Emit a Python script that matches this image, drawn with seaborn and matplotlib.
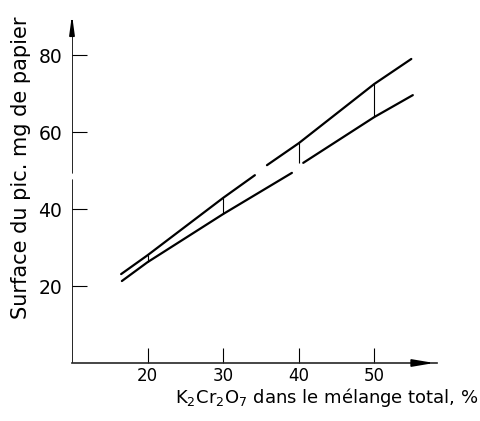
import numpy as np
import pandas as pd
import seaborn as sns
import matplotlib.pyplot as plt

# values
upper_x_a = [16.5, 20, 30, 34.2]
upper_y_a = [23.1, 28.0, 42.9, 48.8]
upper_x_b = [35.8, 40, 50, 54.9]
upper_y_b = [51.4, 57.1, 72.5, 79.0]
lower_x_a = [16.6, 20, 30, 39.1]
lower_y_a = [21.3, 26.2, 38.7, 49.4]
lower_x_b = [40.6, 50, 55.1]
lower_y_b = [52.0, 63.9, 69.6]
link_x = [20, 30, 40, 50]
link_top = [28.0, 42.9, 57.1, 72.5]
link_bottom = [26.2, 38.7, 52.0, 63.9]
x_ticks = [20, 30, 40, 50]
y_ticks = [20, 40, 60, 80]

sns.set_style("ticks")
plt.rcParams['font.family'] = ['DejaVu Sans']
plt.rcParams['text.color'] = 'black'
plt.rcParams['axes.labelcolor'] = 'black'
plt.rcParams['xtick.color'] = 'black'
plt.rcParams['ytick.color'] = 'black'

fig = plt.figure(figsize=(4.81, 4.21), dpi=100)
ax = fig.add_axes([72 / 481, 58 / 421, 365 / 481, 351 / 421])

for xs, ys in [(upper_x_a, upper_y_a), (upper_x_b, upper_y_b),
               (lower_x_a, lower_y_a), (lower_x_b, lower_y_b)]:
    seg = pd.DataFrame({'x': xs, 'y': ys})
    sns.lineplot(x='x', y='y', data=seg, color='black', lw=1.6, sort=False, ax=ax)

ax.vlines(link_x, link_bottom, link_top, color='black', lw=0.8)

ax.set_xlim(10, 58.3)
ax.set_ylim(0, 91.2)
ax.set_xticks(x_ticks)
ax.set_yticks(y_ticks)
ax.tick_params(direction='in', length=11, width=0.8)
ax.tick_params(axis='x', labelsize=12, pad=3)
ax.tick_params(axis='y', labelsize=13.5, pad=7)

sns.despine(ax=ax)
ax.spines['left'].set_visible(False)
ax.spines['bottom'].set_linewidth(1.2)
# y axis drawn by hand with the small break of the original
ax.axvline(10, ymin=0, ymax=47.5 / 91.2, color='black', lw=1.2)
ax.axvline(10, ymin=49.4 / 91.2, ymax=0.97, color='black', lw=1.2)

# arrow heads
ax.annotate('', xy=(1, 0), xytext=(0.93, 0), xycoords='axes fraction',
            arrowprops=dict(arrowstyle='-|>,head_length=1.3,head_width=0.22', color='black', lw=1.2))
ax.annotate('', xy=(0, 1), xytext=(0, 0.95), xycoords='axes fraction',
            arrowprops=dict(arrowstyle='-|>,head_length=1.1,head_width=0.15', color='black', lw=1.2))

ax.set_xlabel('')
ax.set_ylabel('Surface du pic. mg de papier', fontsize=15)
ax.yaxis.set_label_coords(-0.112, 0.556)
fig.text(478 / 481, 1 - 403 / 421, r'K$_2$Cr$_2$O$_7$ dans le mélange total, %',
         ha='right', va='baseline', fontsize=13)

plt.savefig('out.png', dpi=100)
